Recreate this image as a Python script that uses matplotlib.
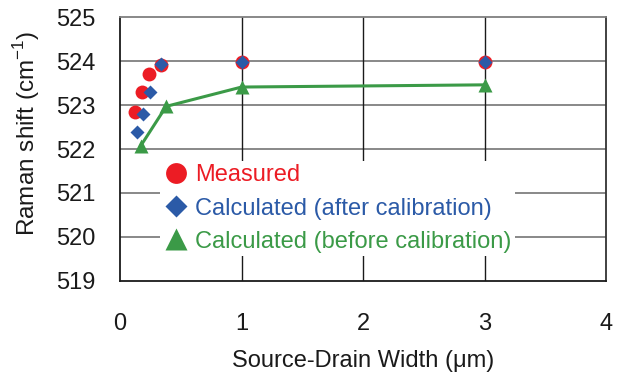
import matplotlib.pyplot as plt

plt.rcParams['font.family'] = ['Liberation Sans', 'DejaVu Sans']
plt.rcParams['mathtext.fontset'] = 'custom'
plt.rcParams['mathtext.rm'] = 'Liberation Sans'

# Source-drain width (um) and Raman shift (cm-1)
measured_x = [0.12, 0.18, 0.24, 0.34, 1.0, 3.0]
measured_y = [522.85, 523.29, 523.70, 523.92, 523.97, 523.98]

after_x = [0.14, 0.19, 0.25, 0.34, 1.0, 3.0]
after_y = [522.38, 522.80, 523.29, 523.93, 523.97, 523.97]

before_x = [0.17, 0.38, 1.0, 3.0]
before_y = [522.07, 522.97, 523.41, 523.46]

red = '#ec1c24'
blue = '#2b5aa7'
green = '#3b9a47'
fs = 17

fig = plt.figure(figsize=(6.25, 3.73), dpi=100)
ax = fig.add_axes([0.192, 0.247, 0.778, 0.707])

ax.set_xlim(0, 4)
ax.set_ylim(519, 525)
ax.set_xticks([0, 1, 2, 3, 4])
ax.set_yticks(range(519, 526))

# grid: grey horizontal, black vertical
for y in range(520, 525):
    ax.axhline(y, color='#7f7f7f', lw=1.3, zorder=1)
for x in [1, 2, 3]:
    ax.axvline(x, color='#1a1a1a', lw=1.0, zorder=1)

ax.plot(before_x, before_y, color=green, lw=2.2, zorder=2)
ax.plot(measured_x, measured_y, 'o', color=red, ms=10, mec='none',
        label='Measured', zorder=3)
ax.plot(after_x, after_y, 'D', color=blue, ms=7.5, mec='none',
        label='Calculated (after calibration)', zorder=4)
ax.plot(before_x, before_y, '^', color=green, ms=10.5, mec='none',
        label='Calculated (before calibration)', zorder=5)

leg = ax.legend(loc='upper left', bbox_to_anchor=(0.082, 0.455), numpoints=1,
                fontsize=fs, markerscale=1.5, frameon=True, fancybox=False,
                borderpad=0.15, handletextpad=0.23, handlelength=1.1,
                labelspacing=0.47, borderaxespad=0)
leg.get_frame().set_facecolor('white')
leg.get_frame().set_edgecolor('none')
leg.get_frame().set_alpha(1)
leg.set_zorder(10)
for txt, c in zip(leg.get_texts(), [red, blue, green]):
    txt.set_color(c)

ax.spines['left'].set_color('#1a1a1a')
ax.spines['bottom'].set_color('#1a1a1a')
ax.spines['right'].set_color('#333333')
ax.spines['top'].set_color('#7f7f7f')
for s in ax.spines.values():
    s.set_linewidth(1.3)

ax.tick_params(length=0, labelsize=fs, colors='#1a1a1a')
ax.tick_params(axis='x', pad=23)
ax.tick_params(axis='y', pad=18)

ax.set_xlabel('Source-Drain Width (μm)', fontsize=fs, labelpad=11, color='#1a1a1a')
ax.set_ylabel('Raman shift (cm$^{\\mathregular{-1}}$)', fontsize=17.5, color='#1a1a1a')
ax.yaxis.set_label_coords(-0.160, 0.56)

fig.savefig('out.png', dpi=100)
